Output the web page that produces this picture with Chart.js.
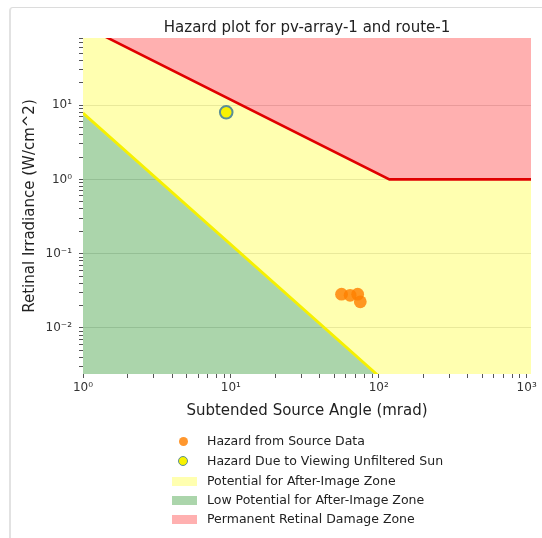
<!DOCTYPE html>
<html>
<head>
<meta charset="utf-8">
<script src="https://cdn.jsdelivr.net/npm/chart.js@4/dist/chart.umd.min.js"></script>
<style>
  html, body { margin: 0; padding: 0; background: #fff; overflow: hidden; }
  #wrap { position: relative; width: 542px; height: 538px; overflow: hidden; font-family: "DejaVu Sans", sans-serif; }
  #frame { position: absolute; left: 9px; top: 7px; width: 700px; height: 700px; box-sizing: border-box; border-top: 1px solid #dcdcdc; border-left: 2px solid #e2e2e2; border-top-left-radius: 4px; }
  canvas { position: absolute; left: 0; top: 0; }
  #legend { position: absolute; left: 0; top: 0; width: 542px; height: 538px; pointer-events: none; }
  .row { position: absolute; left: 207px; height: 20px; line-height: 20px; font-size: 12.5px; color: #222; white-space: nowrap; }
  .mk { position: absolute; }
</style>
</head>
<body>
<div id="wrap">
  <div id="frame"></div>
  <canvas id="c" width="542" height="538"></canvas>
  <div id="legend"></div>
</div>
<script>
// ---- data ----
const chartTitle = 'Hazard plot for pv-array-1 and route-1';
const xAxisTitle = 'Subtended Source Angle (mrad)';
const yAxisTitle = 'Retinal Irradiance (W/cm^2)';

const seriesNames = [
  'Hazard from Source Data',
  'Hazard Due to Viewing Unfiltered Sun',
  'Potential for After-Image Zone',
  'Low Potential for After-Image Zone',
  'Permanent Retinal Damage Zone'
];

// Hazard from source data (mrad, W/cm^2)
const sourceAngle = [56, 64, 72, 75];
const sourceIrradiance = [0.0285, 0.0275, 0.0285, 0.0225];

// Unfiltered sun
const sunAngle = [9.3];
const sunIrradiance = [8.0];

// Permanent retinal damage threshold (red line)
const burnAngle = [1, 118, 1070];
const burnIrradiance = [118, 1, 1];

// After-image threshold (yellow line)
const afterImageAngle = [1, 100, 1070];
const afterImageIrradiance = [7.8, 0.00225, 0.000033];

// axes
const xMin = 1, xMax = 1070;
const yMin = 0.0024, yMax = 80;
const xMajorTicks = [1, 10, 100, 1000];
const xTickLabels = ['10\u2070', '10\u00B9', '10\u00B2', '10\u00B3'];
const yMajorTicks = [0.01, 0.1, 1, 10];
const yTickLabels = ['10\u207B\u00B2', '10\u207B\u00B9', '10\u2070', '10\u00B9'];

// colours
const orange = 'rgba(255,128,0,0.82)';
const sunFill = '#f8f200';
const sunEdge = '#5a8f96';
const yellowZone = 'rgba(255,255,0,0.31)';
const greenZone = 'rgba(0,128,0,0.33)';
const pinkZone = 'rgba(255,0,0,0.31)';
const redLine = '#e00000';
const yellowLine = '#f6f000';

// ---- helpers ----
const zip = (xs, ys) => xs.map((x, i) => ({x: x, y: ys[i]}));
const isMajor = (v, majors) => majors.some(m => Math.abs(Math.log10(v) - Math.log10(m)) < 1e-9);
const labelFor = (v, majors, labels) => {
  for (let i = 0; i < majors.length; i++) if (Math.abs(Math.log10(v) - Math.log10(majors[i])) < 1e-9) return labels[i];
  return '';
};
function logTicks(majors, lo, hi) {
  const out = [];
  const first = majors[0] / 10;
  for (let d = first; d <= majors[majors.length - 1] * 10; d *= 10) {
    for (let k = 1; k <= 9; k++) {
      const v = Math.round(k * d * 1e9) / 1e9;
      if (v >= lo - 1e-12 && v <= hi + 1e-12) out.push({value: v, major: k === 1});
    }
  }
  return out;
}

const FONT = '"DejaVu Sans", sans-serif';

const chart = new Chart(document.getElementById('c'), {
  type: 'scatter',
  data: {
    datasets: [
      {
        label: seriesNames[0],
        data: zip(sourceAngle, sourceIrradiance),
        backgroundColor: orange,
        borderWidth: 0,
        pointRadius: 6.4,
        order: 0
      },
      {
        label: seriesNames[1],
        data: zip(sunAngle, sunIrradiance),
        backgroundColor: sunFill,
        borderColor: sunEdge,
        borderWidth: 2,
        pointRadius: 6.3,
        order: 0
      },
      {
        type: 'line',
        label: seriesNames[2],
        data: zip(burnAngle, burnIrradiance),
        borderWidth: 0,
        borderColor: 'rgba(0,0,0,0)',
        backgroundColor: yellowZone,
        pointRadius: 0,
        fill: {target: 3},
        tension: 0,
        clip: 0,
        order: 3
      },
      {
        type: 'line',
        label: seriesNames[3],
        data: zip(afterImageAngle, afterImageIrradiance),
        borderWidth: 2.8,
        borderColor: yellowLine,
        backgroundColor: greenZone,
        pointRadius: 0,
        fill: 'start',
        tension: 0,
        clip: 0,
        order: 2
      },
      {
        type: 'line',
        label: seriesNames[4],
        data: zip(burnAngle, burnIrradiance),
        borderWidth: 2.6,
        borderColor: redLine,
        backgroundColor: pinkZone,
        pointRadius: 0,
        fill: 'end',
        tension: 0,
        clip: 0,
        order: 1
      }
    ]
  },
  options: {
    responsive: false,
    animation: false,
    events: [],
    layout: { padding: { left: 0, right: 11, top: 0, bottom: 116 } },
    plugins: {
      legend: { display: false },
      tooltip: { enabled: false },
      title: {
        display: true,
        fullSize: false,
        text: chartTitle,
        color: '#222',
        font: { family: FONT, size: 15, weight: 'normal' },
        padding: { top: 19, bottom: 1 }
      }
    },
    scales: {
      x: {
        type: 'logarithmic',
        min: xMin, max: xMax,
        border: { display: false },
        afterBuildTicks: s => { s.ticks = logTicks(xMajorTicks, xMin, xMax); },
        afterFit: s => { s.height = 48; },
        grid: {
          drawOnChartArea: false,
          color: 'rgba(0,0,0,0)',
          tickColor: '#555',
          tickLength: 4,
          tickWidth: 1
        },
        ticks: {
          autoSkip: false,
          maxRotation: 0,
          padding: 3,
          color: '#333',
          font: { family: FONT, size: 12 },
          callback: v => labelFor(v, xMajorTicks, xTickLabels)
        },
        title: {
          display: true,
          text: xAxisTitle,
          color: '#222',
          font: { family: FONT, size: 15 },
          padding: { top: 0, bottom: 2 }
        }
      },
      y: {
        type: 'logarithmic',
        min: yMin, max: yMax,
        border: { display: false },
        afterBuildTicks: s => { s.ticks = logTicks(yMajorTicks, yMin, yMax); },
        afterFit: s => { s.width = 83; },
        grid: {
          drawOnChartArea: true,
          color: ctx => (ctx.tick && isMajor(ctx.tick.value, yMajorTicks)) ? 'rgba(0,0,0,0.13)' : 'rgba(0,0,0,0)',
          tickColor: '#555',
          tickLength: 4,
          tickWidth: 1
        },
        ticks: {
          autoSkip: false,
          padding: 7,
          color: '#333',
          font: { family: FONT, size: 12 },
          callback: v => labelFor(v, yMajorTicks, yTickLabels)
        },
        title: {
          display: true,
          text: yAxisTitle,
          color: '#222',
          font: { family: FONT, size: 15 },
          padding: { top: 21, bottom: 0 }
        }
      }
    }
  }
});

// ---- legend (HTML, built from the datasets) ----
(function () {
  const lg = document.getElementById('legend');
  const rowCenters = [441, 461, 481, 500, 519];
  const ds = chart.data.datasets;
  ds.forEach((d, i) => {
    const cy = rowCenters[i];
    const row = document.createElement('div');
    row.className = 'row';
    row.style.top = (cy - 10) + 'px';
    row.textContent = d.label;
    lg.appendChild(row);
    const mk = document.createElement('div');
    mk.className = 'mk';
    if (i === 0) {
      Object.assign(mk.style, {left: '179px', top: (cy - 4.5) + 'px', width: '9px', height: '9px', borderRadius: '50%', background: d.backgroundColor});
    } else if (i === 1) {
      Object.assign(mk.style, {left: '178px', top: (cy - 5.5) + 'px', width: '8px', height: '8px', borderRadius: '50%', background: d.backgroundColor, border: '1.8px solid ' + d.borderColor});
    } else {
      Object.assign(mk.style, {left: '172px', top: (cy - 4.5) + 'px', width: '25px', height: '9px', background: d.backgroundColor});
    }
    lg.appendChild(mk);
  });
})();
</script>
</body>
</html>
